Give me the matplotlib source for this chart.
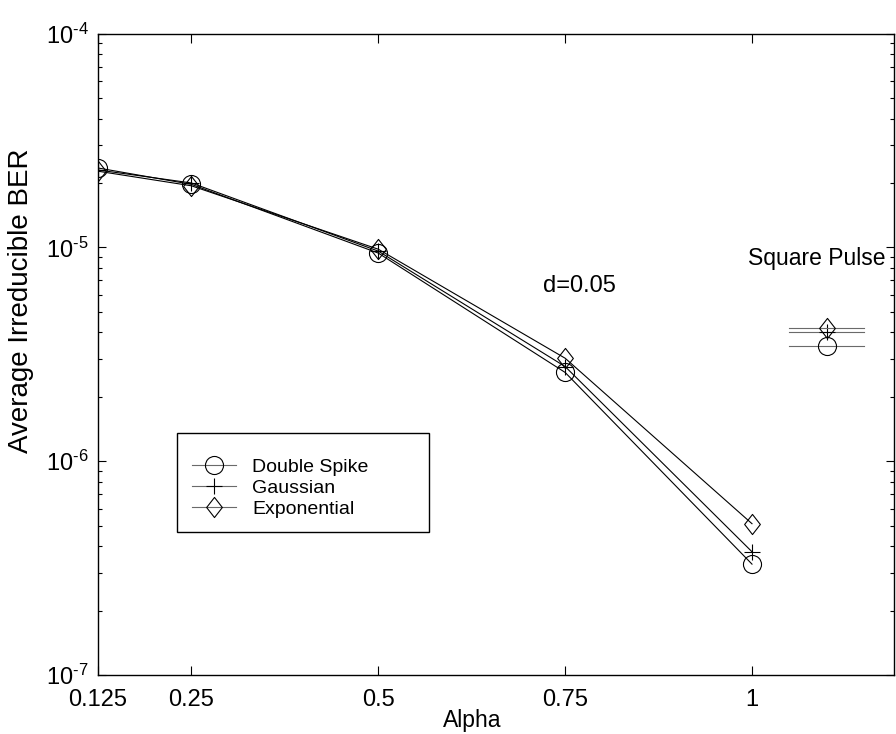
import matplotlib
matplotlib.use("Agg")
import matplotlib.pyplot as plt
from matplotlib.path import Path
from matplotlib.patches import Rectangle
from matplotlib.ticker import FixedLocator, FixedFormatter, NullLocator, LogLocator, FuncFormatter
import numpy as np

plt.rcParams['font.family'] = ['Liberation Sans', 'DejaVu Sans']
plt.rcParams['mathtext.fontset'] = 'custom'
plt.rcParams['mathtext.rm'] = 'Liberation Sans'
plt.rcParams['mathtext.it'] = 'Liberation Sans:italic'
plt.rcParams['mathtext.bf'] = 'Liberation Sans:bold'
plt.rcParams['axes.unicode_minus'] = False

# Roll-off factor and irreducible BER for each pulse shape
alpha = [0.125, 0.25, 0.5, 0.75, 1.0]
ber_double_spike = [2.35e-5, 1.97e-5, 9.4e-6, 2.6e-6, 3.3e-7]
ber_gaussian = [2.30e-5, 2.00e-5, 9.6e-6, 2.77e-6, 3.77e-7]
ber_exponential = [2.27e-5, 1.94e-5, 9.8e-6, 3.03e-6, 5.1e-7]

# Square pulse reference levels
sq_alpha = 1.1
sq_span = [1.05, 1.15]
sq_double_spike = 3.47e-6
sq_gaussian = 4.03e-6
sq_exponential = 4.21e-6

xtick_values = [0.125, 0.25, 0.5, 0.75, 1.0]
xtick_labels = ['0.125', '0.25', '0.5', '0.75', '1']

diamond = Path([(0, 1), (0.78, 0), (0, -1), (-0.78, 0), (0, 1)],
               [Path.MOVETO, Path.LINETO, Path.LINETO, Path.LINETO, Path.CLOSEPOLY])

fig = plt.figure(figsize=(8.96, 7.34), dpi=100)
ax = fig.add_axes([98 / 896, 59 / 734, 796 / 896, 641.5 / 734])

common = dict(color='black', lw=0.8, mfc='none', mec='black', mew=0.8)
l1, = ax.plot(alpha, ber_double_spike, marker='o', ms=13, label='Double Spike', **common)
l2, = ax.plot(alpha, ber_gaussian, marker='+', ms=11.5, label='Gaussian', **common)
l3, = ax.plot(alpha, ber_exponential, marker=diamond, ms=14.5, label='Exponential', **common)

gray = '#6a6a6a'
for val, mk, ms in [(sq_double_spike, 'o', 13), (sq_gaussian, '+', 11.5),
                    (sq_exponential, diamond, 14.5)]:
    ax.plot(sq_span, [val, val], color=gray, lw=0.8)
    ax.plot([sq_alpha], [val], marker=mk, ms=ms, ls='none',
            mfc='none', mec='black', mew=0.8)

ax.set_yscale('log')
ax.set_xlim(0.125, 1.19)
ax.set_ylim(1e-7, 1e-4)


def decade_label(v, pos):
    e = int(round(np.log10(v)))
    sign = r'\text{-}' if e < 0 else ''
    return r'$\mathdefault{10^{%s%d}}$' % (sign, abs(e))


ax.xaxis.set_major_locator(FixedLocator(xtick_values))
ax.xaxis.set_major_formatter(FixedFormatter(xtick_labels))
ax.xaxis.set_minor_locator(NullLocator())
ax.yaxis.set_major_locator(LogLocator(base=10, numticks=10))
ax.yaxis.set_major_formatter(FuncFormatter(decade_label))
ax.yaxis.set_minor_locator(LogLocator(base=10, subs=range(2, 10), numticks=20))

ax.tick_params(which='both', direction='in', top=True, right=True, width=0.8)
ax.tick_params(axis='x', which='major', length=6.5, pad=10, labelsize=17)
ax.tick_params(axis='y', which='major', length=6, pad=7, labelsize=17)
ax.tick_params(axis='y', which='minor', length=2.8)
for s in ax.spines.values():
    s.set_linewidth(1.0)

ax.set_xlabel('Alpha', fontsize=16.5)
ax.xaxis.set_label_coords(0.47, -0.053, transform=ax.transAxes)
ax.xaxis.label.set_va('top')
ax.set_ylabel('Average Irreducible BER', fontsize=20)
ax.yaxis.set_label_coords(-0.08, 0.583, transform=ax.transAxes)

ax.text(0.72, 6.6e-6, 'd=0.05', fontsize=17, ha='left', va='center')
ax.text(0.995, 8.9e-6, 'Square Pulse', fontsize=16.5, ha='left', va='center')

# Legend frame drawn as its own box, entries placed inside it
ax.add_patch(Rectangle((0.0996, 0.2229), 0.3166, 0.1543, transform=ax.transAxes,
                       facecolor='white', edgecolor='black', lw=1.0, zorder=4))
leg = ax.legend(handles=[l1, l2, l3], loc='upper left',
                bbox_to_anchor=(0.1177, 0.3383), borderaxespad=0, borderpad=0,
                fontsize=14, frameon=False, handlelength=2.3, handletextpad=0.8,
                labelspacing=0.18)
leg.set_zorder(5)
for ln in leg.get_lines():
    ln.set_color(gray)

fig.savefig('out.png', dpi=100)
